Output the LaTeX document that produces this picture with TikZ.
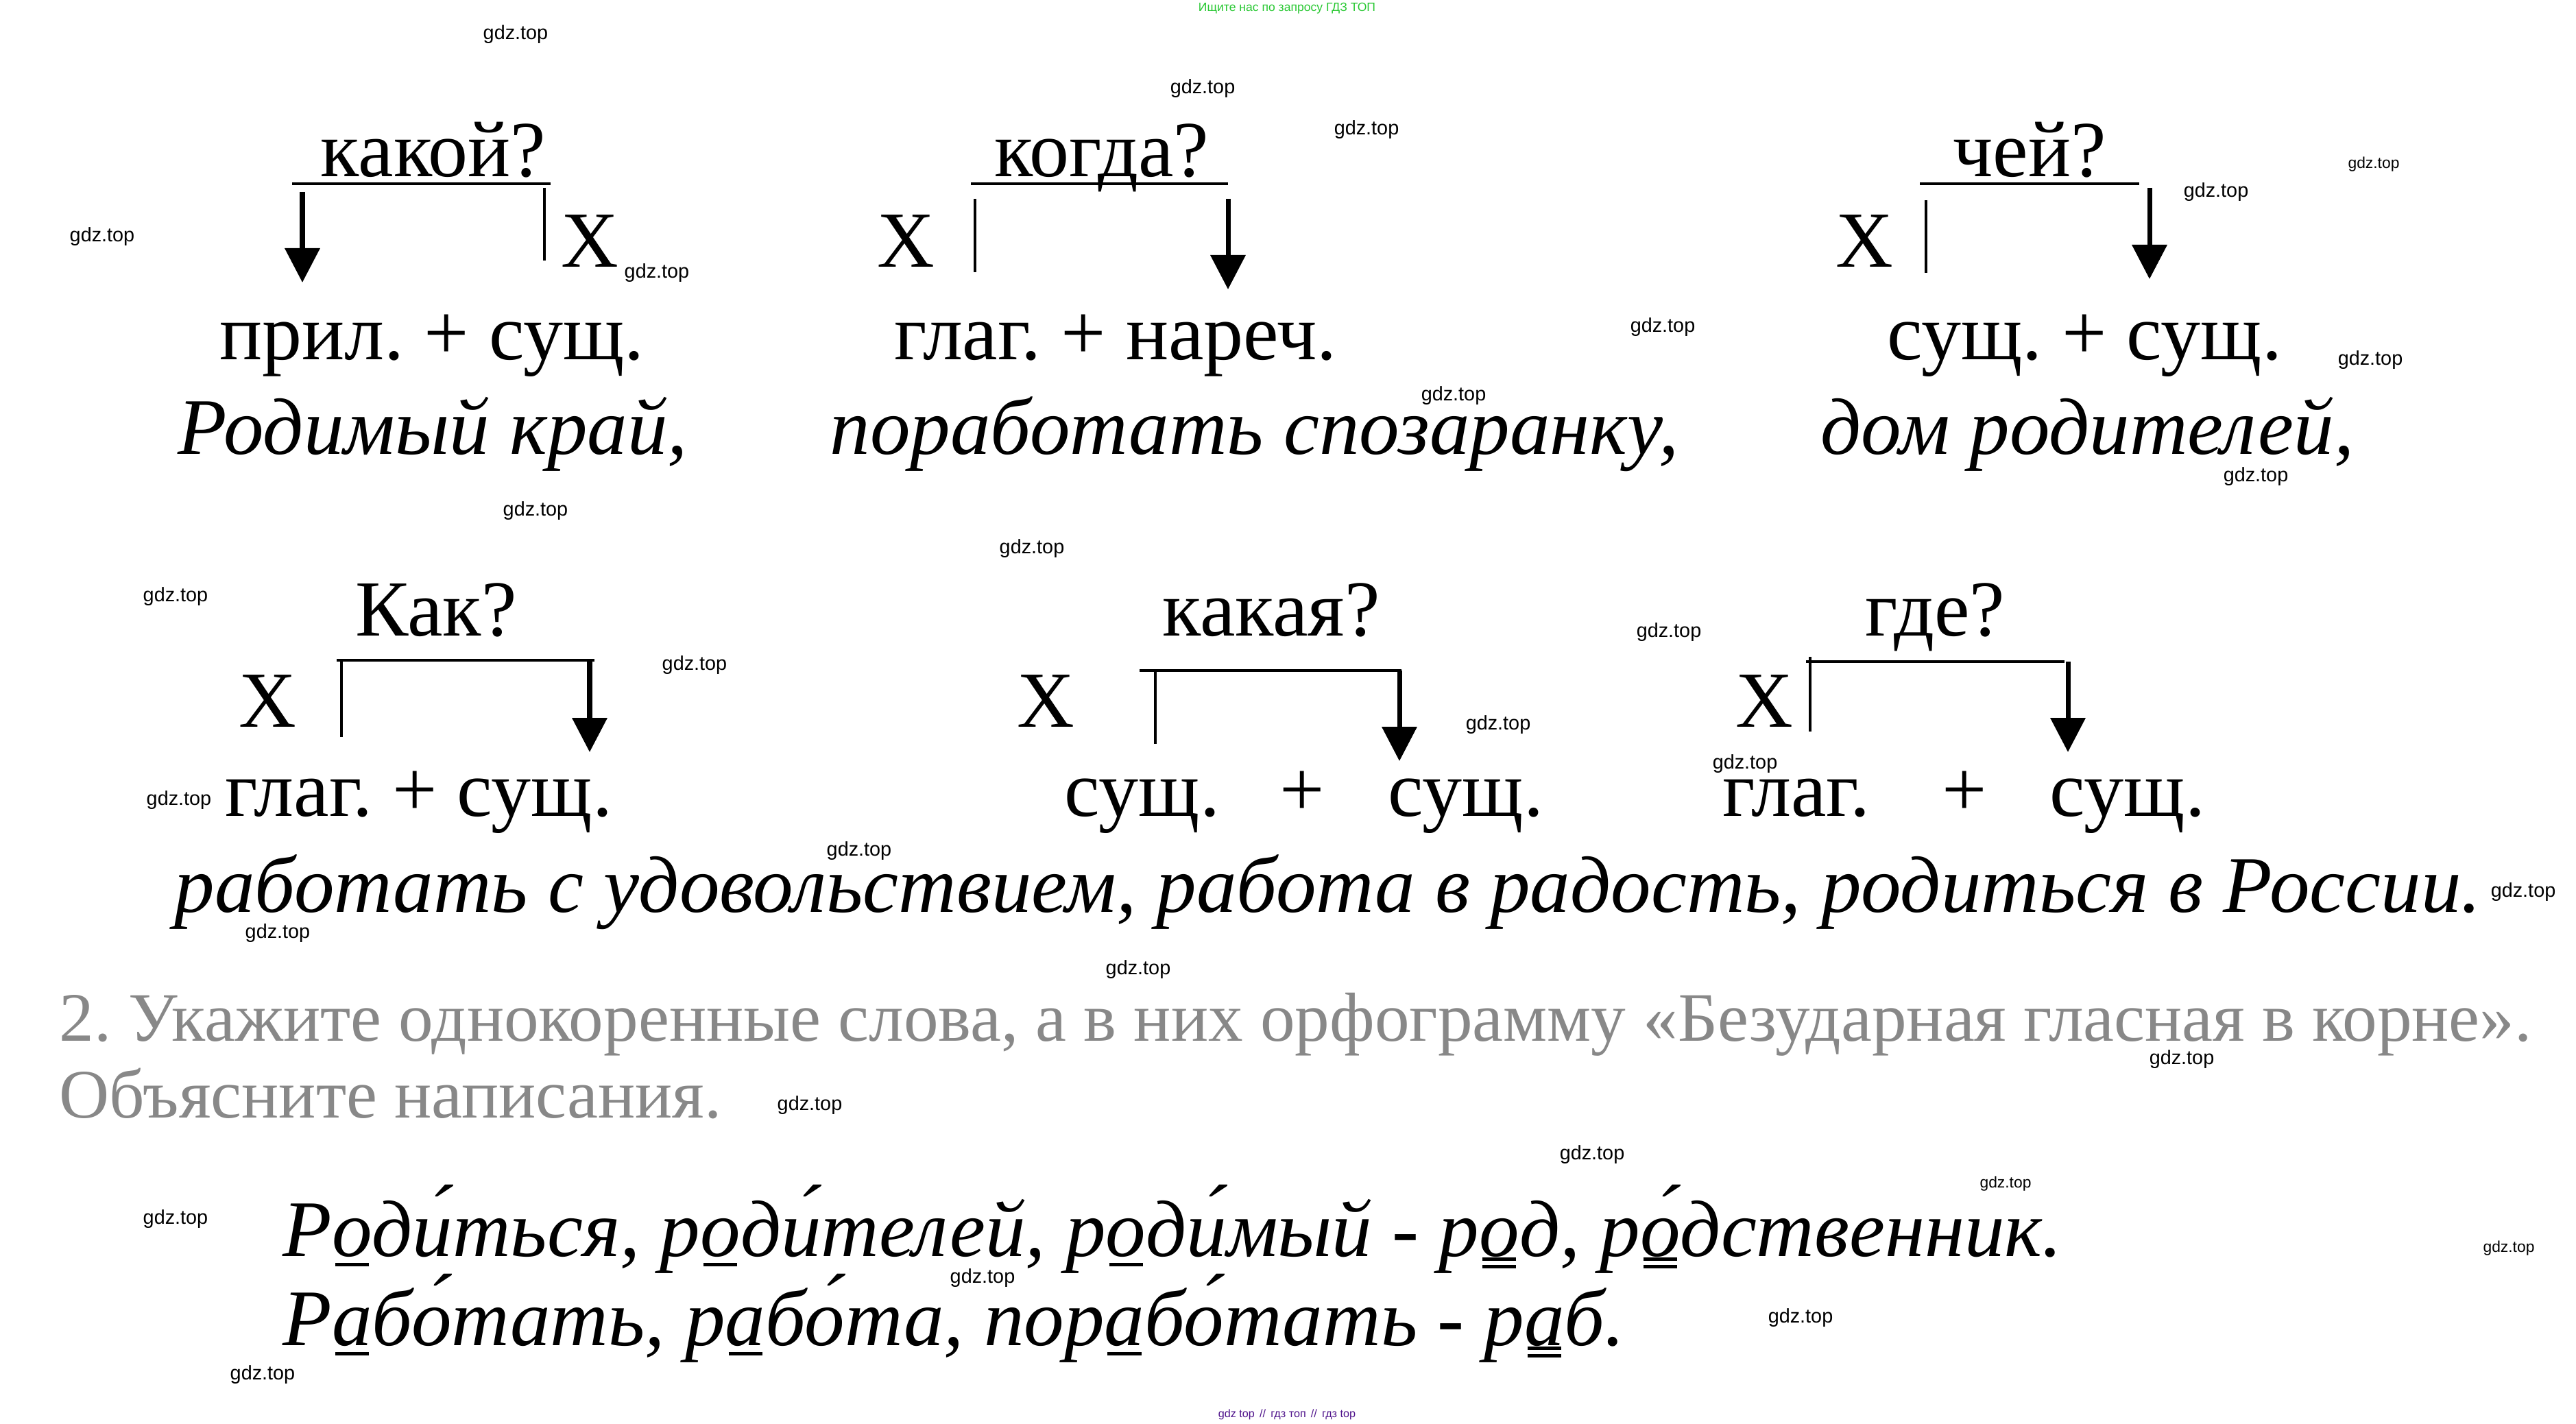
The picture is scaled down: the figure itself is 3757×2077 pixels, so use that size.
\documentclass[tikz,border=0pt]{standalone}
\usepackage{fontspec}
\setmainfont{Liberation Serif}
\newfontfamily\wmfont{Liberation Sans}
\usetikzlibrary{arrows.meta}
\definecolor{wmgreen}{RGB}{40,200,50}
\definecolor{wmpurple}{RGB}{80,20,140}
\definecolor{taskgray}{RGB}{136,136,136}
\frenchspacing
% vowel with one or two orthogram lines under it
\newcommand{\vow}[1]{\ooalign{#1\cr\hidewidth\rule[-0.13em]{0.42em}{0.045em}\hidewidth\cr}}
\newcommand{\vowd}[1]{\ooalign{#1\cr\hidewidth\rule[-0.06em]{0.42em}{0.04em}\hidewidth\cr\hidewidth\rule[-0.15em]{0.42em}{0.04em}\hidewidth\cr}}
\begin{document}
\begin{tikzpicture}[x=0.1mm,y=-0.1mm,
  txt/.style={inner sep=0pt,font=\fontsize{33}{40}\selectfont},
  ex/.style={inner sep=0pt,font=\fontsize{33.3}{40}\selectfont\itshape},
  task/.style={inner sep=0pt,text=taskgray,font=\fontsize{28.8}{36}\selectfont},
  wm/.style={inner sep=0pt,font=\wmfont\fontsize{8.2}{10}\selectfont},
  wmsmall/.style={inner sep=0pt,font=\wmfont\fontsize{6.5}{8}\selectfont},
  link/.style={line width=1.3pt},
  bar/.style={line width=1.1pt},
  arr/.style={line width=2pt,-{Triangle[width=5mm,length=5mm]}}]
\fill[white] (0,0) rectangle (3757,2077);
\useasboundingbox (0,0) rectangle (3757,2077);

% какой?
\node[txt,anchor=base] (q1) at (632,258) {какой?};
\coordinate (l1a) at (426,268); \coordinate (l1b) at (803,268);
\draw[link] (l1a) -- (l1b);
\coordinate (a1s) at (441,280); \coordinate (a1e) at (441,412);
\draw[arr] (a1s) -- (a1e);
\coordinate (b1s) at (794,274); \coordinate (b1e) at (794,380);
\draw[bar] (b1s) -- (b1e);
\node[txt,anchor=base west] (x1) at (818,390) {X};
\node[txt,anchor=base] (p1) at (630,525) {прил. + сущ.};
\node[ex,anchor=base west] (e1) at (259,662) {Родимый край,};

% когда?
\node[txt,anchor=base] (q2) at (1607,258) {когда?};
\coordinate (l2a) at (1416,268); \coordinate (l2b) at (1791,268);
\draw[link] (l2a) -- (l2b);
\coordinate (a2s) at (1791,290); \coordinate (a2e) at (1791,422);
\draw[arr] (a2s) -- (a2e);
\coordinate (b2s) at (1422,290); \coordinate (b2e) at (1422,397);
\draw[bar] (b2s) -- (b2e);
\node[txt,anchor=base west] (x2) at (1279,390) {X};
\node[txt,anchor=base] (p2) at (1627,525) {глаг. + нареч.};
\node[ex,anchor=base west] (e2) at (1210,662) {поработать спозаранку,};

% чей?
\node[txt,anchor=base] (q3) at (2960,258) {чей?};
\coordinate (l3a) at (2800,268); \coordinate (l3b) at (3120,268);
\draw[link] (l3a) -- (l3b);
\coordinate (a3s) at (3135,274); \coordinate (a3e) at (3135,407);
\draw[arr] (a3s) -- (a3e);
\coordinate (b3s) at (2809,292); \coordinate (b3e) at (2809,398);
\draw[bar] (b3s) -- (b3e);
\node[txt,anchor=base west] (x3) at (2677,390) {X};
\node[txt,anchor=base] (p3) at (3040,525) {сущ. + сущ.};
\node[ex,anchor=base west] (e3) at (2655,662) {дом родителей,};

% Как?
\node[txt,anchor=base] (q4) at (636,927) {Как?};
\coordinate (l4a) at (491,963); \coordinate (l4b) at (867,963);
\draw[link] (l4a) -- (l4b);
\coordinate (a4e) at (860,1097);
\draw[arr] (l4b -| a4e) -- (a4e);
\coordinate (b4s) at (498,965); \coordinate (b4e) at (498,1075);
\draw[bar] (b4s) -- (b4e);
\node[txt,anchor=base west] (x4) at (348,1060) {X};
\node[txt,anchor=base] (p4) at (611,1190) {глаг. + сущ.};

% какая?
\node[txt,anchor=base] (q5) at (1854,927) {какая?};
\coordinate (l5a) at (1662,978); \coordinate (l5b) at (2044,978);
\draw[link] (l5a) -- (l5b);
\coordinate (a5e) at (2041,1110);
\draw[arr] (l5b -| a5e) -- (a5e);
\coordinate (b5s) at (1685,978); \coordinate (b5e) at (1685,1085);
\draw[bar] (b5s) -- (b5e);
\node[txt,anchor=base west] (x5) at (1483,1060) {X};
\node[txt,anchor=base west] (s5a) at (1552,1190) {сущ.};
\node[txt,anchor=base] (plus5) at (1899,1190) {+};
\node[txt,anchor=base west] (s5b) at (2024,1190) {сущ.};

% где?
\node[txt,anchor=base] (q6) at (2822,927) {где?};
\coordinate (l6a) at (2634,965); \coordinate (l6b) at (3011,965);
\draw[link] (l6a) -- (l6b);
\coordinate (a6e) at (3016,1097);
\draw[arr] (l6b -| a6e) -- (a6e);
\coordinate (b6s) at (2640,958); \coordinate (b6e) at (2640,1067);
\draw[bar] (b6s) -- (b6e);
\node[txt,anchor=base west] (x6) at (2531,1060) {X};
\node[txt,anchor=base west] (g6) at (2512,1190) {глаг.};
\node[txt,anchor=base] (plus6) at (2865,1190) {+};
\node[txt,anchor=base west] (s6) at (2989,1190) {сущ.};

\node[ex,anchor=base west] (e4) at (254,1330) {работать с удовольствием, работа в радость, родиться в России.};

% task 2
\node[task,anchor=base west] (t1) at (86,1518) {2. Укажите однокоренные слова, а в них орфограмму «Безударная гласная в корне».};
\node[task,anchor=base west] (t2) at (86,1630) {Объясните написания.};

\node[ex,anchor=base west] (r1) at (412,1832) {Р\vow{о}ди́ться, р\vow{о}ди́телей, р\vow{о}ди́мый - р\vowd{о}д, р\vowd{о́}дственник.};
\node[ex,anchor=base west] (r2) at (412,1962) {Р\vow{а}бо́тать, р\vow{а}бо́та, пор\vow{а}бо́тать - р\vowd{а}б.};

% watermarks
\foreach \wx/\wy in {752/50,1754/129,1993/189,149/345,958/398,3232/280,2425/477,3457/525,2120/577,3290/695,781/745,1505/800,256/870,1013/970,2434/922,2185/1057,2545/1114,261/1167,1253/1241,405/1361,3680/1301,1660/1414,3182/1545,1181/1612,2322/1684,256/1778,1433/1864,2626/1922,383/2005}
  \node[wm] at (\wx,\wy) {gdz.top};
\foreach \wx/\wy in {3462/240,2925/1727,3659/1821}
  \node[wmsmall] at (\wx,\wy) {gdz.top};
\node[inner sep=0pt,anchor=base,text=wmgreen,font=\wmfont\fontsize{5}{6}\selectfont] (top) at (1877,17) {Ищите нас по запросу ГДЗ ТОП};
\node[inner sep=0pt,anchor=base,text=wmpurple,font=\wmfont\fontsize{4.6}{6}\selectfont] (bottom) at (1877,2067) {gdz top \,//\, гдз топ \,//\, гдз top};
\end{tikzpicture}
\end{document}
